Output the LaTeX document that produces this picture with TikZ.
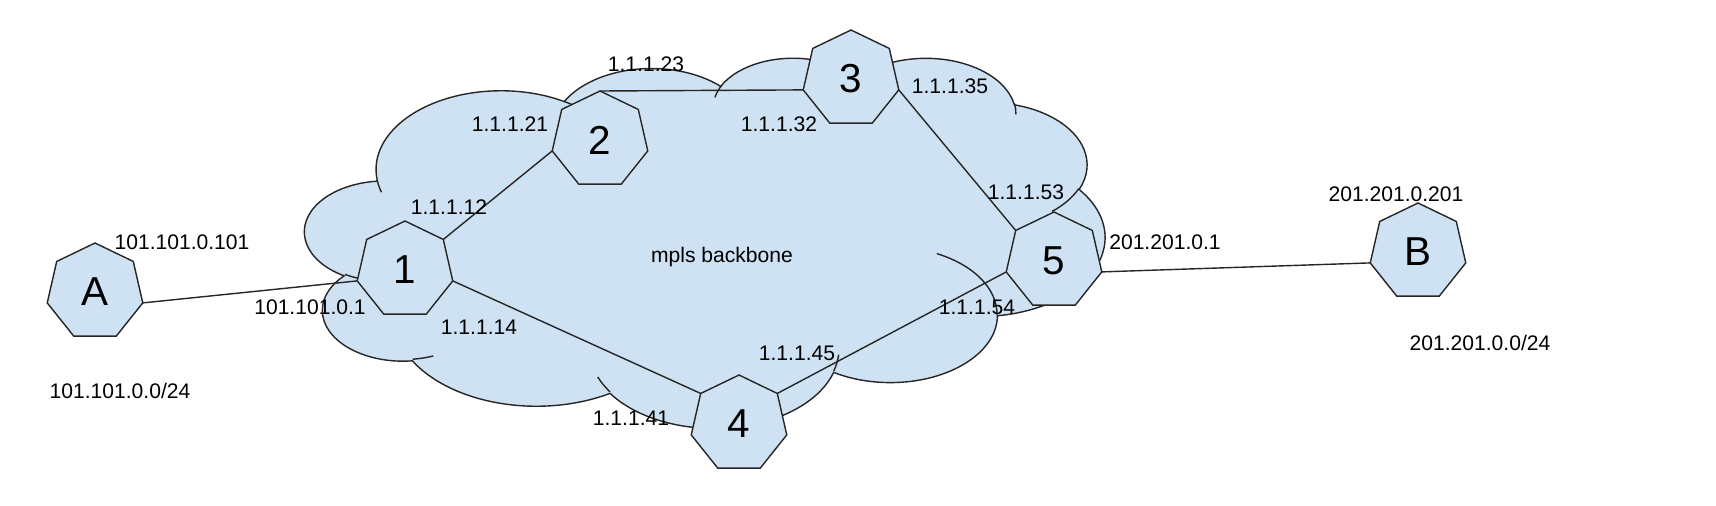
\documentclass[tikz,border=0pt]{standalone}
\usepackage{fontspec}
\setmainfont{Liberation Sans}
\usetikzlibrary{shapes.geometric}
\definecolor{cloudblue}{HTML}{CFE2F3}
\begin{document}
\begin{tikzpicture}[x=0.02cm,y=-0.02cm,line width=0.8pt,
   router/.style={regular polygon,regular polygon sides=7,minimum size=1.96cm,inner sep=0pt,outer sep=0pt,draw=black!85,fill=cloudblue,font=\fontsize{23}{26}\selectfont},
   addr/.style={anchor=base,inner sep=0pt,font=\fontsize{12}{14}\selectfont}]
   \useasboundingbox (0,0) rectangle (1716,506);
   % mpls cloud
   \begin{scope}[shift={(305,57)},x=0.037037cm,y=-0.017130cm,draw=black!85]
   \draw[fill=cloudblue] (39,143.7) arc[start angle=-187.75,end angle=-59.64,x radius=67.53,y radius=91.9]
      arc[start angle=-152.02,end angle=-45.43,x radius=53.33,y radius=72.67]
      arc[start angle=-153.48,end angle=-37.33,x radius=43.65,y radius=59.45]
      arc[start angle=-139.69,end angle=-10.21,x radius=48.57,y radius=65.95]
      arc[start angle=-74.77,end angle=23.21,x radius=53.33,y radius=72.73]
      arc[start angle=-37.53,end angle=81.86,x radius=67.75,y radius=92.2]
      arc[start angle=0.46,end angle=121.98,x radius=57.85,y radius=78.67]
      arc[start angle=16.85,end angle=146.25,x radius=67.52,y radius=92.15]
      arc[start angle=58.99,end angle=150.2,x radius=77.2,y radius=105.43]
      arc[start angle=-276.69,end angle=-136.88,x radius=43.6,y radius=59.18]
      arc[start angle=-239.65,end angle=-95.89,x radius=43.45,y radius=59.45] -- cycle;
   \draw (46.93,261.77) arc[start angle=85.55,end angle=120.35,x radius=43.45,y radius=59.45];
   \draw (69.28,348.99) arc[start angle=68.23,end angle=83.31,x radius=43.6,y radius=59.18];
   \draw (164.78,390.9) arc[start angle=146.25,end angle=158.47,x radius=67.52,y radius=92.15];
   \draw (288.27,347.51) arc[start angle=4.74,end angle=16.85,x radius=67.52,y radius=92.15];
   \draw (341.29,229.54) arc[start angle=-64.02,end angle=0.46,x radius=57.85,y radius=78.67];
   \draw (417.98,153.54) arc[start angle=23.21,end angle=49.63,x radius=53.33,y radius=72.73];
   \draw (383.24,54.26) arc[start angle=-10.21,end angle=0.82,x radius=48.57,y radius=65.95];
   \draw (290.78,39.52) arc[start angle=-156.28,end angle=-139.69,x radius=48.57,y radius=65.95];
   \draw (221.41,47.2) arc[start angle=-167.73,end angle=-153.48,x radius=43.65,y radius=59.45];
   \draw (140,51.92) arc[start angle=-59.64,end angle=-45.74,x radius=67.53,y radius=91.9];
   \draw (41.27,157.89) arc[start angle=163.19,end angle=172.26,x radius=67.53,y radius=91.9];
   \end{scope}
   \node[addr] (backbone) at (722,263) {mpls backbone};
   % routers
   \node[router] (A) at (95,292) {A};
   \node[router] (r1) at (405,270) {1};
   \node[router] (r2) at (600,140) {2};
   \node[router] (r3) at (851,79) {3};
   \node[router] (r4) at (739,424) {4};
   \node[router] (r5) at (1054,261) {5};
   \node[router] (B) at (1418,252) {B};
   % links
   \draw[black!85] (A.corner 6)--(r1.corner 3);
   \draw[black!85] (r1.corner 7)--(r2.corner 3);
   \draw[black!85] (r1.corner 6)--(r4.corner 2);
   \draw[black!85] (r2.corner 1)--(r3.corner 3);
   \draw[black!85] (r3.corner 6)--(r5.corner 2);
   \draw[black!85] (r4.corner 7)--(r5.corner 3);
   \draw[black!85] (r5.corner 6)--(B.corner 3);
   % addresses
   \node[addr] (ipA) at (182,250) {101.101.0.101};
   \node[addr] (ip1A) at (310,315) {101.101.0.1};
   \node[addr] (netA) at (120,398) {101.101.0.0/24};
   \node[addr] (ip12) at (449,215) {1.1.1.12};
   \node[addr] (ip21) at (510,132) {1.1.1.21};
   \node[addr] (ip14) at (479,335) {1.1.1.14};
   \node[addr] (ip23) at (646,72) {1.1.1.23};
   \node[addr] (ip32) at (779,132) {1.1.1.32};
   \node[addr] (ip35) at (950,94) {1.1.1.35};
   \node[addr] (ip53) at (1026,200) {1.1.1.53};
   \node[addr] (ip54) at (977,315) {1.1.1.54};
   \node[addr] (ip45) at (797,360) {1.1.1.45};
   \node[addr] (ip41) at (631,425) {1.1.1.41};
   \node[addr] (ip5B) at (1165,250) {201.201.0.1};
   \node[addr] (ipB) at (1396,202) {201.201.0.201};
   \node[addr] (netB) at (1480,350) {201.201.0.0/24};
\end{tikzpicture}
\end{document}
